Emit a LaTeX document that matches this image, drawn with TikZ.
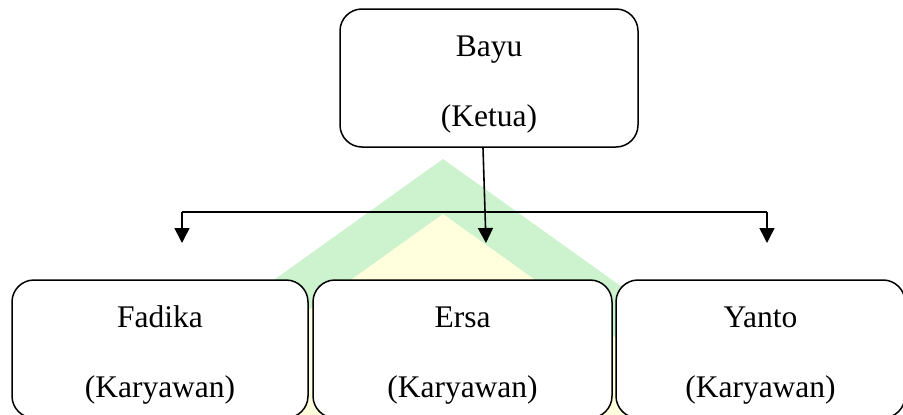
\documentclass[tikz,border=0pt]{standalone}
\usepackage{fontspec}
\setmainfont{Liberation Serif}
\usetikzlibrary{arrows.meta}
\definecolor{wmgreen}{RGB}{204,242,206}
\definecolor{wmyellow}{RGB}{255,255,221}
\tikzset{
  orgbox/.style={draw=black, line width=1.5pt, fill=white, rounded corners=22pt,
    align=center, inner sep=0pt, font=\fontsize{31.5}{70}\selectfont},
  conn/.style={line width=1.6pt, -{Triangle[width=15pt,length=15pt]}},
  bar/.style={line width=1.4pt}
}
\newcommand{\toprule}{\rule{0pt}{34pt}}
\begin{document}
\begin{tikzpicture}[x=1pt,y=-1pt]
\useasboundingbox (0,0) rectangle (903,415);
% watermark
\fill[wmgreen] (443,159) -- (801,415) -- (85,415) -- cycle;
\fill[wmyellow] (443,214) -- (724,415) -- (162,415) -- cycle;
% boxes
\node[orgbox, minimum width=298pt, minimum height=138pt] (bayu) at (489,78) {\toprule Bayu\\(Ketua)};
\node[orgbox, minimum width=296pt, minimum height=138pt] (fadika) at (160,349) {\toprule Fadika\\(Karyawan)};
\node[orgbox, minimum width=299pt, minimum height=138pt] (ersa) at (462.5,349) {\toprule Ersa\\(Karyawan)};
\node[orgbox, minimum width=289pt, minimum height=138pt] (yanto) at (760.5,349) {\toprule Yanto\\(Karyawan)};
% connectors
\coordinate (fTip) at (182,243);
\coordinate (eTip) at (486,243);
\coordinate (yTip) at (767,243);
\coordinate (jL) at (182,212);
\coordinate (jR) at (767,212);
\draw[bar] (jL) -- (jR);
\draw[conn] (jL) -- (fTip);
\draw[conn] (jR) -- (yTip);
\draw[conn] ([xshift=-6pt]bayu.south) -- (eTip);
\end{tikzpicture}
\end{document}
